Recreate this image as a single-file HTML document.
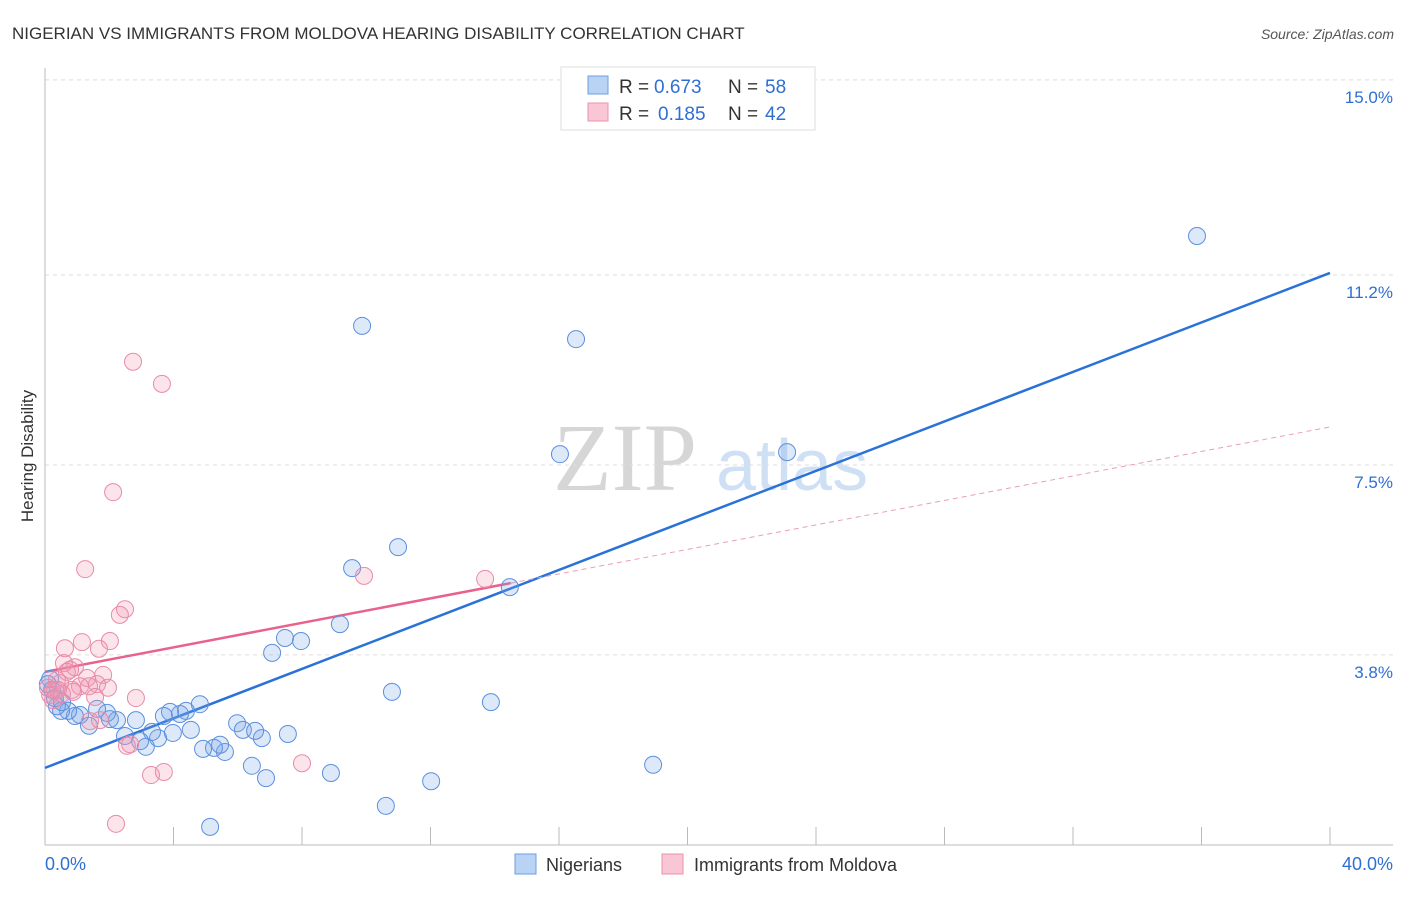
<!DOCTYPE html>
<html><head><meta charset="utf-8"><style>
body{margin:0;background:#fff;font-family:"Liberation Sans",sans-serif;}
</style></head><body>
<svg id="chart" width="1406" height="892" xmlns="http://www.w3.org/2000/svg" font-family="Liberation Sans, sans-serif">
<text x="12" y="39" font-size="17" fill="#333">NIGERIAN VS IMMIGRANTS FROM MOLDOVA HEARING DISABILITY CORRELATION CHART</text>
<text x="1394" y="39" font-size="14" fill="#555" font-style="italic" text-anchor="end">Source: ZipAtlas.com</text>
<text transform="translate(33,456) rotate(-90)" font-size="17" fill="#333" text-anchor="middle">Hearing Disability</text>
<g>
<text x="553" y="490" font-size="96" fill="#d6d6d6" style="font-family:'Liberation Serif',serif">ZIP</text>
<text x="716" y="490" font-size="72" fill="#cfe0f5">atlas</text>
</g>
<g id="grid"></g>
<g id="axes"></g>
<g id="lines"></g>
<g id="pts"></g>
<g>
<rect x="561" y="67" width="254" height="63" fill="#fff" stroke="#ddd"/>
<rect x="588" y="76" width="20" height="18" fill="#b9d3f5" stroke="#6e9ee0"/>
<rect x="588" y="103" width="20" height="18" fill="#f9c6d6" stroke="#eb92ae"/>
<text x="619" y="93" font-size="19" fill="#333">R =</text>
<text x="654" y="93" font-size="19" fill="#2f6fd4">0.673</text>
<text x="728" y="93" font-size="19" fill="#333">N =</text>
<text x="765" y="93" font-size="19" fill="#2f6fd4">58</text>
<text x="619" y="120" font-size="19" fill="#333">R =</text>
<text x="658" y="120" font-size="19" fill="#2f6fd4">0.185</text>
<text x="728" y="120" font-size="19" fill="#333">N =</text>
<text x="765" y="120" font-size="19" fill="#2f6fd4">42</text>
</g>
<g>
<rect x="515" y="854" width="21" height="20" fill="#b9d3f5" stroke="#6e9ee0"/>
<text x="546" y="871" font-size="18" fill="#333">Nigerians</text>
<rect x="662" y="854" width="21" height="20" fill="#f9c6d6" stroke="#eb92ae"/>
<text x="694" y="871" font-size="18" fill="#333">Immigrants from Moldova</text>
</g>
</svg>
<script>
const yTicks=[15.0,11.2,7.5,3.8];
const xLabels=["0.0%","40.0%"];
const blueX=[35.86,9.87,16.53,16.03,23.10,10.99,9.56,14.47,9.18,7.47,7.97,7.07,10.80,13.88,18.93,12.02,8.90,10.61,5.14,6.88,6.44,7.56,6.75,5.98,6.16,6.54,5.60,5.45,5.26,4.92,4.54,4.82,4.39,4.20,3.89,3.70,3.98,3.52,3.33,3.14,2.96,2.83,2.49,2.24,2.02,1.93,1.62,1.37,1.09,0.93,0.72,0.50,0.37,0.16,0.22,0.31,0.09,0.53];
const blueY=[11.96,10.21,9.95,7.71,7.75,5.90,5.49,5.12,4.40,4.13,4.07,3.84,3.08,2.88,1.66,1.34,1.50,0.86,0.45,1.40,1.64,2.26,2.18,2.47,2.34,2.32,1.91,2.05,1.99,1.97,2.34,2.84,2.71,2.65,2.69,2.61,2.28,2.18,2.30,2.01,2.12,2.53,2.22,2.53,2.55,2.67,2.75,2.42,2.63,2.61,2.71,2.71,2.80,3.33,3.12,2.96,3.23,2.88];
const pinkX=[2.74,3.64,2.12,1.25,2.49,2.33,9.93,13.70,2.02,1.15,0.62,1.68,0.93,0.59,0.68,1.31,1.81,1.62,1.09,1.96,0.31,0.47,0.16,0.09,0.25,0.87,1.37,2.83,1.40,1.71,2.55,2.65,8.00,3.30,3.70,2.21,0.37,0.78,0.84,1.56,0.53,0.40];
const pinkY=[9.51,9.08,6.97,5.47,4.69,4.58,5.34,5.28,4.07,4.05,3.93,3.92,3.56,3.64,3.47,3.35,3.41,3.23,3.19,3.16,3.12,3.25,3.02,3.16,2.92,3.08,3.19,2.96,2.51,2.53,2.03,2.06,1.69,1.46,1.52,0.51,3.31,3.51,3.12,2.98,3.04,3.12];
const blueFit=[1.6,11.24];
const pinkFit=[3.47,8.24];
const pinkSolidEnd=14.5;
const X=v=>45+v*1285/40, Y=v=>850-v*575/11.2;
const NS="http://www.w3.org/2000/svg";
function mk(t,a,p){const e=document.createElementNS(NS,t);for(const k in a)e.setAttribute(k,a[k]);p.appendChild(e);return e;}
const g=document.getElementById('grid'),ax=document.getElementById('axes'),ln=document.getElementById('lines'),pts=document.getElementById('pts');
yTicks.forEach(v=>{
 const l=mk('line',{x1:45,x2:1393,y1:Y(v),y2:Y(v),stroke:'#ddd','stroke-dasharray':'4,4'},g);
 
 
 const t=mk('text',{x:1393,y:Y(v)+23,'font-size':17,fill:'#2f6fd4','text-anchor':'end'},g);
 t.textContent=v.toFixed(1)+'%';
 
 
});
mk('line',{x1:45,x2:45,y1:68,y2:845,stroke:'#bbb'},ax);
mk('line',{x1:45,x2:1393,y1:845,y2:845,stroke:'#bbb'},ax);
for(let k=1;k<=10;k++){const xx=X(k*4);const t=mk('line',{x1:xx,x2:xx,y1:827,y2:845,stroke:'#bbb'},ax);
 
 }
[[0,'start',45],[40,'end',1393]].forEach((d,i)=>{const t=mk('text',{x:d[2],y:870,'font-size':18,fill:'#2f6fd4','text-anchor':d[1]},ax);t.textContent=xLabels[i];
 
 });
let l=mk('line',{x1:X(0),y1:Y(blueFit[0]),x2:X(40),y2:Y(blueFit[1]),stroke:'#2a72d8','stroke-width':2.5},ln);


const py=v=>pinkFit[0]+(pinkFit[1]-pinkFit[0])*v/40;
l=mk('line',{x1:X(0),y1:Y(py(0)),x2:X(pinkSolidEnd),y2:Y(py(pinkSolidEnd)),stroke:'#e8628c','stroke-width':2.5},ln);


l=mk('line',{x1:X(pinkSolidEnd),y1:Y(py(pinkSolidEnd)),x2:X(40),y2:Y(py(40)),stroke:'#e8a0b8','stroke-width':1,'stroke-dasharray':'5,4'},ln);


blueX.forEach((v,i)=>{const c=mk('circle',{cx:X(v),cy:Y(blueY[i]),r:8.5,fill:'rgba(120,165,230,0.25)',stroke:'#5b90df','stroke-width':1},pts);
 
 });
pinkX.forEach((v,i)=>{const c=mk('circle',{cx:X(v),cy:Y(pinkY[i]),r:8.5,fill:'rgba(240,150,175,0.25)',stroke:'#e98aaa','stroke-width':1},pts);
 
 });
</script>
</body></html>
